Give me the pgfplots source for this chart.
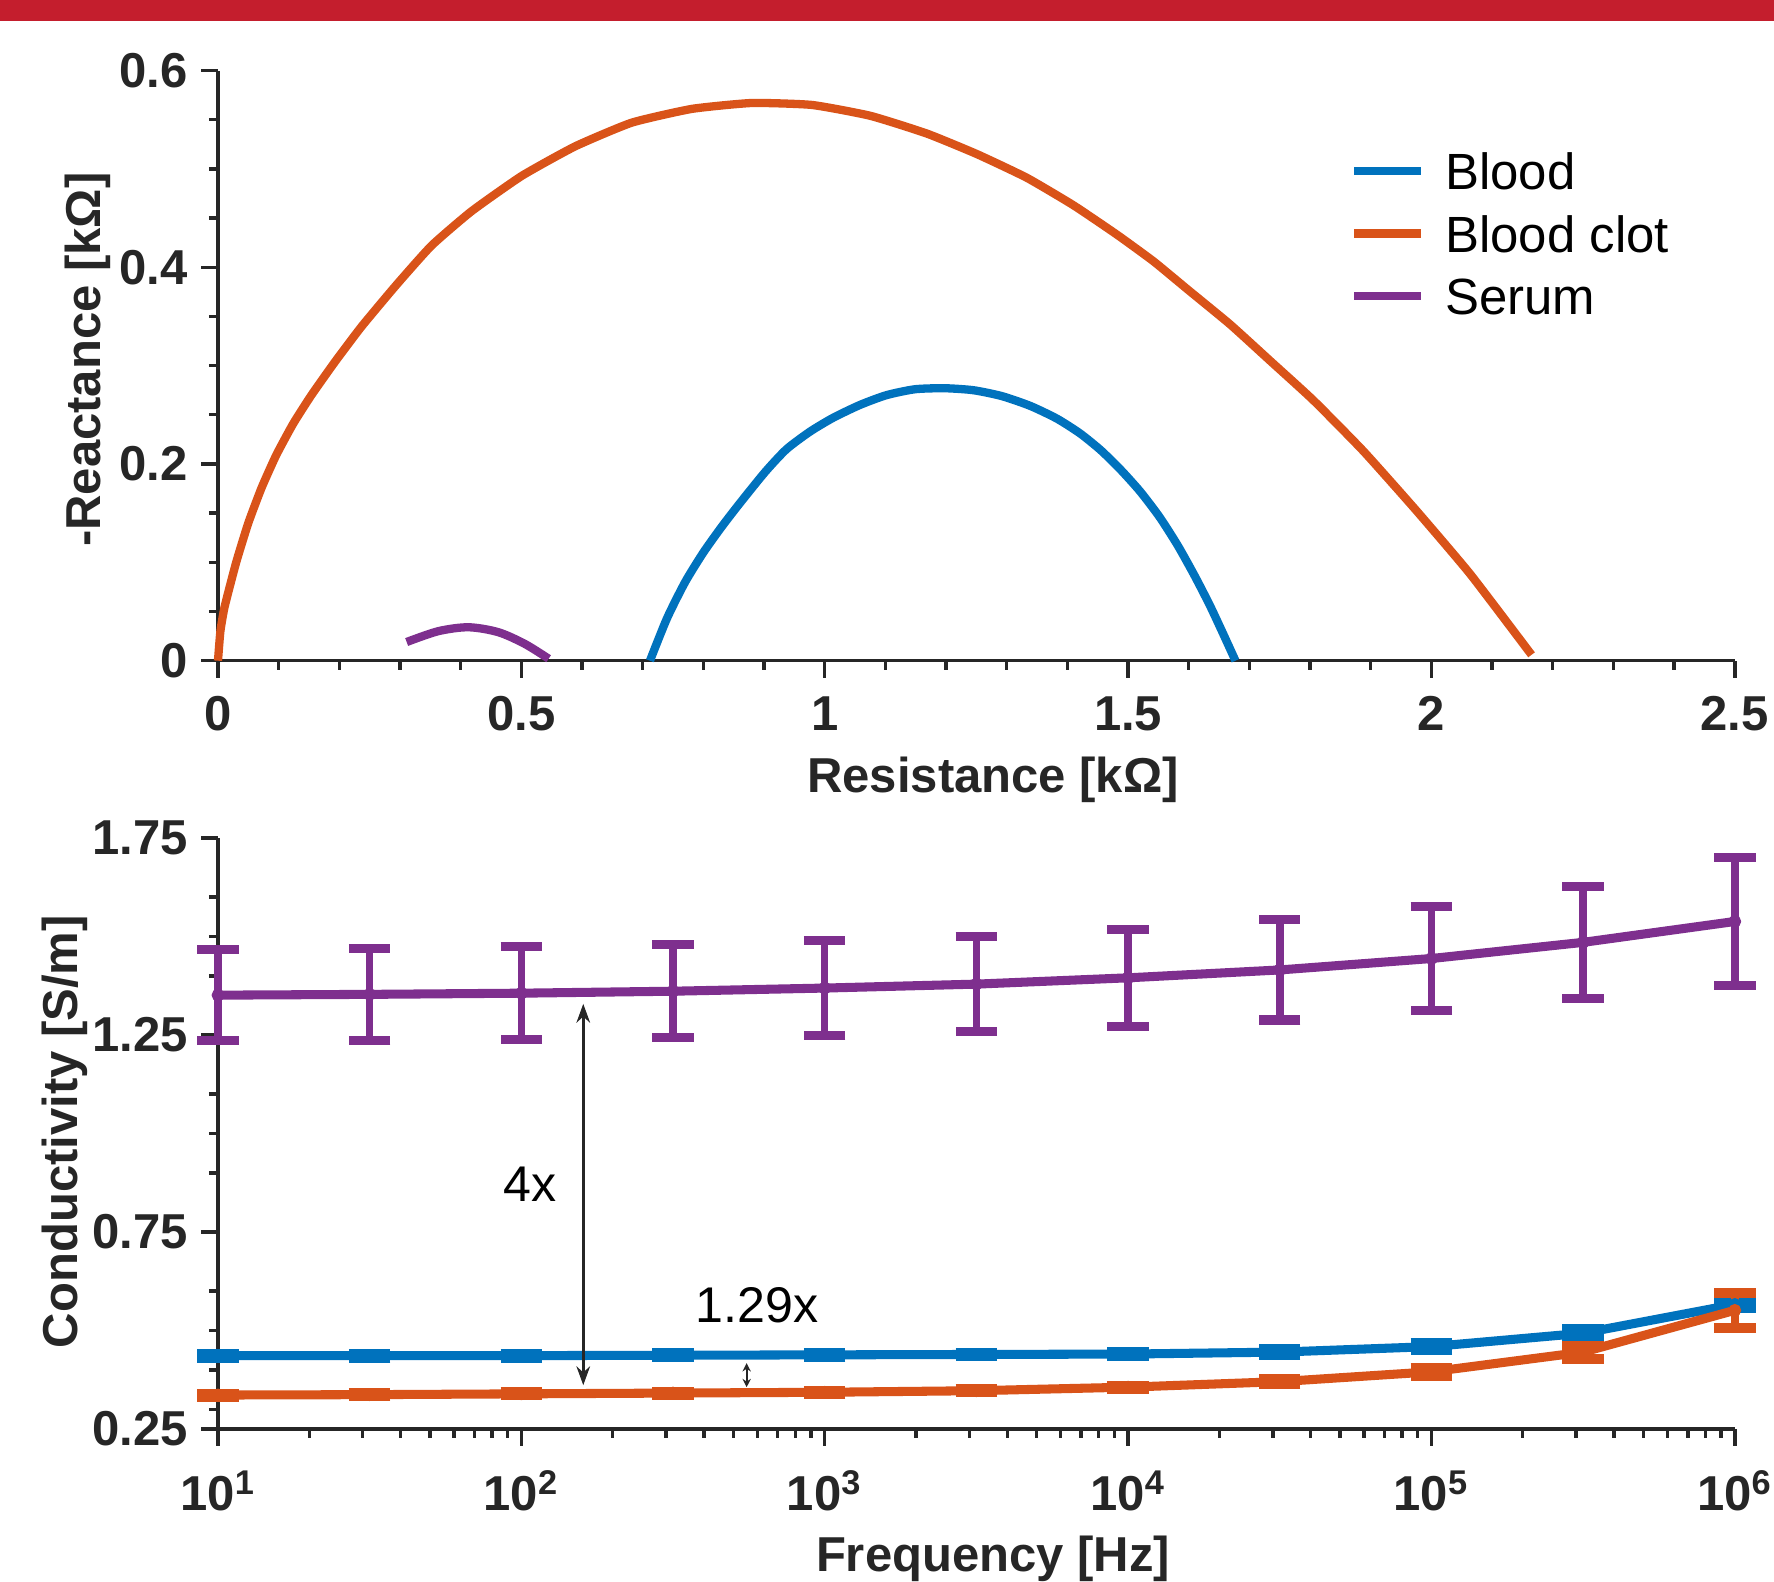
\documentclass[border=0pt]{standalone}
\usepackage{fontspec}
\setmainfont{Liberation Sans}
\usepackage{pgfplots}
\pgfplotsset{compat=1.18}
\usetikzlibrary{arrows.meta}
\definecolor{mblue}{RGB}{0,114,189}
\definecolor{morange}{RGB}{217,83,25}
\definecolor{mpurple}{RGB}{126,47,142}
\definecolor{axgray}{RGB}{38,38,38}
\definecolor{barred}{RGB}{196,30,45}
\newcommand{\lbl}{\fontsize{13}{15}\selectfont\bfseries}
\pgfplotsset{
  mystyle/.style={
    scale only axis,
    axis lines=left,
    axis line style={-, line width=0.9pt, color=axgray},
    tick align=outside,
    major tick length=4.5pt,
    minor tick length=2.4pt,
    tick style={line width=0.9pt, color=axgray},
    ticklabel style={font=\lbl, text=axgray},
    label style={font=\lbl, text=axgray},
    clip=false,
  }
}
\begin{document}
\begin{tikzpicture}
\path[use as bounding box] (0,0) rectangle (470.4pt,419.4pt);
\fill[barred] (0,413.9pt) rectangle (470.4pt,419.4pt);

% ---------- top: Nyquist ----------
\begin{axis}[mystyle,
  at={(57.8pt,244.2pt)}, anchor=south west,
  width=402.2pt, height=156.5pt,
  xmin=0, xmax=2.5, ymin=0, ymax=0.6,
  xtick={0,0.5,1,1.5,2,2.5}, xticklabels={0,0.5,1,1.5,2,2.5},
  minor x tick num=4,
  ytick={0,0.2,0.4,0.6}, yticklabels={0,0.2,0.4,0.6},
  minor y tick num=3,
  xticklabel style={yshift=-1.5pt},
  xlabel={Resistance [kΩ]},
  ylabel={-Reactance [kΩ]},
  xlabel style={at={(axis description cs:0.511,-0.202)}, anchor=center},
  ylabel style={at={(axis description cs:-0.0857,0.51)}, anchor=center, rotate=0},
  legend style={draw=none, fill=none, at={(axis description cs:0.746,0.8635)}, anchor=north west,
    font=\fontsize{13.5}{16}\selectfont, text=black, inner sep=0pt, row sep=3.56pt, column sep=5.3pt,
    nodes={inner sep=0pt, text height=10pt, text depth=3pt}},
  legend cell align=left,
  legend image code/.code={\draw[#1, line width=2.2pt] (0pt,1.4pt) -- (17.7pt,1.4pt);},
]
\addplot[mblue, line width=2.2pt, line join=round, smooth, tension=0.4] coordinates {
(0.712,0.0) (0.740,0.043) (0.770,0.080) (0.800,0.110) (0.830,0.136) (0.860,0.160)
(0.902,0.192) (0.937,0.215) (0.976,0.233) (1.014,0.247) (1.058,0.260) (1.102,0.270)
(1.149,0.276) (1.198,0.277) (1.245,0.275) (1.292,0.269) (1.339,0.259) (1.383,0.246)
(1.421,0.231) (1.455,0.214) (1.488,0.194) (1.520,0.172) (1.552,0.146) (1.582,0.117)
(1.610,0.086) (1.635,0.056) (1.657,0.027) (1.677,0.0)};
\addlegendentry{Blood}
\addplot[morange, line width=2.2pt, line join=round, smooth, tension=0.3] coordinates {
(0,0) (0.004,0.03) (0.011,0.055) (0.030,0.1) (0.050,0.14) (0.072,0.176) (0.096,0.209)
(0.124,0.241) (0.154,0.270) (0.193,0.304) (0.237,0.340) (0.294,0.382) (0.352,0.422)
(0.418,0.457) (0.501,0.493) (0.589,0.523) (0.682,0.547) (0.781,0.561) (0.880,0.567)
(0.979,0.565) (1.075,0.554) (1.168,0.536) (1.251,0.515) (1.333,0.491) (1.410,0.463)
(1.482,0.433) (1.542,0.406) (1.597,0.378) (1.668,0.342) (1.734,0.305) (1.805,0.265)
(1.888,0.213) (1.976,0.152) (2.064,0.088) (2.165,0.006)};
\addlegendentry{Blood clot}
\addplot[mpurple, line width=2.2pt, smooth] coordinates {
(0.311,0.019) (0.363,0.030) (0.413,0.034) (0.462,0.029) (0.506,0.017) (0.545,0.002)};
\addlegendentry{Serum}
\end{axis}

% ---------- bottom: conductivity ----------
\begin{axis}[mystyle, xmode=log,
  at={(57.8pt,40.5pt)}, anchor=south west,
  width=402.2pt, height=156.7pt,
  xmin=10, xmax=1e6, ymin=0.25, ymax=1.75,
  xtick={1e1,1e2,1e3,1e4,1e5,1e6},
  xticklabels={10\textsuperscript{1},10\textsuperscript{2},10\textsuperscript{3},10\textsuperscript{4},10\textsuperscript{5},10\textsuperscript{6}},
  xticklabel style={yshift=-3pt},
  minor xtick={20,30,40,50,60,70,80,90,200,300,400,500,600,700,800,900,
    2000,3000,4000,5000,6000,7000,8000,9000,2e4,3e4,4e4,5e4,6e4,7e4,8e4,9e4,
    2e5,3e5,4e5,5e5,6e5,7e5,8e5,9e5},
  ytick={0.25,0.75,1.25,1.75}, yticklabels={0.25,0.75,1.25,1.75},
  minor ytick={0.3,0.4,0.5,0.6,0.9,1.0,1.1,1.4,1.5,1.6},
  xlabel={Frequency [Hz]},
  ylabel={Conductivity [S/m]},
  xlabel style={at={(axis description cs:0.511,-0.2202)}, anchor=center},
  ylabel style={at={(axis description cs:-0.101,0.503)}, anchor=center, rotate=0},
]
\addplot[mpurple, line width=2.4pt, line join=round, mark=*, mark size=1.5pt,
  mark options={line width=0.4pt, fill=mpurple},
  error bars/.cd, y dir=both, y explicit,
  error bar style={line width=2pt, mpurple},
  error mark options={rotate=90, line width=2.4pt, mark size=5.5pt, mpurple}]
coordinates {
(10,1.351) +- (0,0.116)
(31.62,1.353) +- (0,0.117)
(100,1.356) +- (0,0.118)
(316.2,1.361) +- (0,0.118)
(1000,1.369) +- (0,0.120)
(3162,1.379) +- (0,0.121)
(10000,1.395) +- (0,0.123)
(31623,1.415) +- (0,0.127)
(100000,1.444) +- (0,0.132)
(316228,1.485) +- (0,0.143)
(1000000,1.538) +- (0,0.162)};
\addplot[mblue, line width=2.4pt, line join=round, mark=*, mark size=1.5pt,
  mark options={line width=0.4pt, fill=mblue},
  error bars/.cd, y dir=both, y explicit,
  error bar style={line width=2pt, mblue},
  error mark options={rotate=90, line width=2.6pt, mark size=5.5pt, mblue}]
coordinates {
(10,0.436) +- (0,0.005)
(31.62,0.436) +- (0,0.005)
(100,0.436) +- (0,0.005)
(316.2,0.437) +- (0,0.005)
(1000,0.438) +- (0,0.005)
(3162,0.439) +- (0,0.005)
(10000,0.440) +- (0,0.005)
(31623,0.445) +- (0,0.007)
(100000,0.459) +- (0,0.009)
(316228,0.493) +- (0,0.010)
(1000000,0.566) +- (0,0.010)};
\addplot[morange, line width=2.4pt, line join=round, mark=*, mark size=1.5pt,
  mark options={line width=0.4pt, fill=morange},
  error bars/.cd, y dir=both, y explicit,
  error bar style={line width=2pt, morange},
  error mark options={rotate=90, line width=2.6pt, mark size=5.5pt, morange}]
coordinates {
(10,0.336) +- (0,0.004)
(31.62,0.337) +- (0,0.004)
(100,0.339) +- (0,0.004)
(316.2,0.341) +- (0,0.004)
(1000,0.343) +- (0,0.004)
(3162,0.347) +- (0,0.004)
(10000,0.356) +- (0,0.004)
(31623,0.370) +- (0,0.006)
(100000,0.395) +- (0,0.010)
(316228,0.445) +- (0,0.017)
(1000000,0.551) +- (0,0.045)};
\draw[{Stealth[length=5pt,width=3.6pt]}-{Stealth[length=5pt,width=3.6pt]}, line width=0.7pt, axgray]
  (axis cs:160,0.361) -- (axis cs:160,1.329);
\draw[{Stealth[length=2.2pt,width=2.2pt]}-{Stealth[length=2.2pt,width=2.2pt]}, line width=0.6pt, axgray]
  (axis cs:553,0.356) -- (axis cs:553,0.417);
\node[font=\fontsize{13.3}{15}\selectfont, text=black, anchor=center] at (axis cs:106.7,0.871) {4x};
\node[font=\fontsize{13.3}{15}\selectfont, text=black, anchor=center] at (axis cs:597,0.5635) {1.29x};
\end{axis}
\end{tikzpicture}
\end{document}
